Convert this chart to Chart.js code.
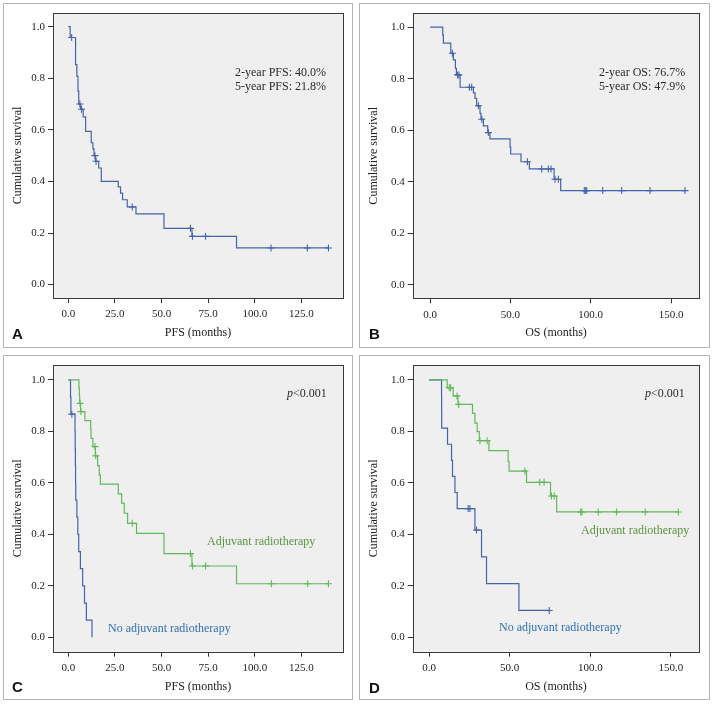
<!DOCTYPE html>
<html><head><meta charset="utf-8">
<script src="https://cdn.jsdelivr.net/npm/chart.js@4.4.1/dist/chart.umd.min.js"></script>
<style>
html,body{margin:0;padding:0;background:#fff;}
#wrap{position:relative;width:713px;height:705px;overflow:hidden;font-family:'Liberation Serif',serif;}
.frame{position:absolute;border:1px solid #b4b4b4;box-sizing:border-box;}
canvas{position:absolute;}
.note{position:absolute;font-size:12px;line-height:14px;color:#2a2a2a;white-space:nowrap;font-family:'Liberation Serif',serif;}
.letter{position:absolute;font-family:'Liberation Sans',Arial,sans-serif;font-weight:bold;font-size:15px;line-height:15px;color:#111;}
</style></head><body>
<div id="wrap">
  <div class="frame" style="left:3px;top:3px;width:350px;height:345px"></div>
  <div class="frame" style="left:359px;top:3px;width:351px;height:345px"></div>
  <div class="frame" style="left:3px;top:355px;width:350px;height:345px"></div>
  <div class="frame" style="left:359px;top:355px;width:351px;height:345px"></div>
  <canvas id="cA" width="356" height="350" style="left:0;top:0"></canvas>
  <canvas id="cB" width="357" height="350" style="left:356px;top:0"></canvas>
  <canvas id="cC" width="356" height="355" style="left:0;top:350px"></canvas>
  <canvas id="cD" width="357" height="355" style="left:356px;top:350px"></canvas>
  <div class="note" style="left:235px;top:65px">2-year PFS: 40.0%<br>5-year PFS: 21.8%</div>
  <div class="note" style="left:599px;top:65px">2-year OS: 76.7%<br>5-year OS: 47.9%</div>
  <div class="note" style="left:287px;top:386px"><i>p</i>&lt;0.001</div>
  <div class="note" style="left:645px;top:386px"><i>p</i>&lt;0.001</div>
  <div class="note" style="left:207px;top:534px;color:#5a9440">Adjuvant radiotherapy</div>
  <div class="note" style="left:108px;top:621px;color:#2f72b8">No adjuvant radiotherapy</div>
  <div class="note" style="left:581px;top:523px;color:#5a9440">Adjuvant radiotherapy</div>
  <div class="note" style="left:499px;top:620px;color:#2f72b8">No adjuvant radiotherapy</div>
  <div class="letter" style="left:12px;top:326px">A</div>
  <div class="letter" style="left:369px;top:326px">B</div>
  <div class="letter" style="left:12px;top:679px">C</div>
  <div class="letter" style="left:369px;top:680px">D</div>
</div>
<script>
// ---- Panel A: PFS, all patients ----
const pfsAllTime = [0, 1.0, 3.9, 4.6, 5.2, 5.6, 6.6, 8.0, 9.3, 12.3, 13.2, 13.8, 14.6, 16.3, 17.7, 26.8, 28.0, 29.1, 31.6, 36.3, 51.3, 66.3, 90.2, 139.5];
const pfsAllSurv = [1.0, 0.958, 0.853, 0.807, 0.75, 0.70, 0.68, 0.65, 0.594, 0.55, 0.526, 0.50, 0.478, 0.452, 0.40, 0.379, 0.355, 0.329, 0.301, 0.274, 0.218, 0.187, 0.142, 0.142];
const pfsAllCensTime = [1.8, 6.2, 7.1, 14.3, 14.9, 34.3, 65.5, 66.6, 73.6, 108.7, 128.2, 139.5];
const pfsAllCensSurv = [0.958, 0.70, 0.68, 0.50, 0.478, 0.301, 0.218, 0.187, 0.187, 0.142, 0.142, 0.142];

// ---- Panel B: OS, all patients ----
const osAllTime = [0, 7.9, 8.3, 12.9, 14.5, 15.8, 16.4, 18.7, 27.0, 28.0, 29.0, 31.1, 31.7, 33.2, 35.9, 37.3, 49.8, 50.2, 56.6, 61.8, 77.2, 81.3, 158.7];
const osAllSurv = [1.0, 0.969, 0.938, 0.899, 0.873, 0.84, 0.815, 0.767, 0.745, 0.724, 0.695, 0.666, 0.643, 0.617, 0.591, 0.567, 0.535, 0.508, 0.478, 0.45, 0.41, 0.366, 0.366];
const osAllCensTime = [13.9, 17.1, 18.0, 24.5, 25.9, 30.1, 32.2, 36.3, 60.6, 69.5, 73.6, 75.3, 77.8, 79.9, 96.0, 96.9, 97.5, 107.5, 119.3, 136.9, 158.7];
const osAllCensSurv = [0.899, 0.815, 0.815, 0.767, 0.767, 0.695, 0.643, 0.591, 0.478, 0.45, 0.45, 0.45, 0.41, 0.41, 0.366, 0.366, 0.366, 0.366, 0.366, 0.366, 0.366];

// ---- Panel C: PFS by adjuvant radiotherapy ----
const pfsAdjTime = [0, 5.7, 5.9, 6.1, 6.6, 8.9, 12.0, 12.2, 13.2, 14.5, 15.7, 16.6, 17.2, 26.8, 28.6, 30.0, 31.8, 36.6, 51.3, 66.3, 90.2, 139.5];
const pfsAdjSurv = [1.0, 0.97, 0.94, 0.909, 0.877, 0.842, 0.808, 0.773, 0.741, 0.705, 0.667, 0.63, 0.595, 0.557, 0.521, 0.482, 0.443, 0.404, 0.325, 0.277, 0.208, 0.208];
const pfsAdjCensTime = [6.3, 6.8, 14.3, 14.7, 34.3, 65.5, 66.6, 73.6, 108.9, 128.4, 139.5];
const pfsAdjCensSurv = [0.909, 0.877, 0.741, 0.705, 0.443, 0.325, 0.277, 0.277, 0.208, 0.208, 0.208];
const pfsNoTime = [0, 1.2, 1.4, 3.6, 3.7, 3.8, 3.9, 4.0, 4.6, 5.1, 5.6, 6.5, 7.7, 8.7, 9.7, 12.7];
const pfsNoSurv = [1.0, 0.933, 0.867, 0.8, 0.733, 0.667, 0.6, 0.533, 0.467, 0.4, 0.333, 0.267, 0.2, 0.133, 0.067, 0.0];
const pfsNoCensTime = [1.9];
const pfsNoCensSurv = [0.867];

// ---- Panel D: OS by adjuvant radiotherapy ----
const osAdjTime = [0, 11.2, 14.9, 17.9, 26.9, 28.4, 29.8, 31.1, 37.1, 49.0, 49.6, 60.4, 75.3, 79.1, 154.6];
const osAdjSurv = [1.0, 0.97, 0.938, 0.905, 0.87, 0.832, 0.799, 0.764, 0.725, 0.683, 0.646, 0.602, 0.549, 0.487, 0.487];
const osAdjCensTime = [12.5, 13.3, 17.3, 18.3, 31.5, 36.0, 59.4, 68.6, 71.3, 75.9, 77.6, 94.0, 94.8, 104.9, 116.3, 134.1, 154.6];
const osAdjCensSurv = [0.97, 0.97, 0.938, 0.905, 0.764, 0.764, 0.646, 0.602, 0.602, 0.549, 0.549, 0.487, 0.487, 0.487, 0.487, 0.487, 0.487];
const osNoTime = [0, 7.7, 7.75, 7.8, 11.4, 13.9, 14.5, 16.0, 17.4, 28.4, 32.5, 35.6, 55.7, 74.5];
const osNoSurv = [1.0, 0.9375, 0.875, 0.8125, 0.75, 0.6875, 0.625, 0.5625, 0.5, 0.4167, 0.3125, 0.2083, 0.1042, 0.1042];
const osNoCensTime = [24.2, 25.3, 29.4, 74.5];
const osNoCensSurv = [0.5, 0.5, 0.4167, 0.1042];

// ---- Tick labels ----
const pfsTicks = [0, 25, 50, 75, 100, 125];
const osTicks = [0, 50, 100, 150];
const survTicks = [0, 0.2, 0.4, 0.6, 0.8, 1.0];

const BLUE = '#4563ad', GREEN = '#62b85a';
const FONT = "'Liberation Serif', 'Times New Roman', serif";

function pts(t, s) { return t.map((v, i) => ({x: v, y: s[i]})); }
function curve(label, t, s, color) {
  return {label, data: pts(t, s), showLine: true, stepped: 'before', borderColor: color,
          borderWidth: 1.2, pointRadius: 0, pointHoverRadius: 0, fill: false};
}
function cens(label, t, s, color) {
  return {label, data: pts(t, s), showLine: false, pointStyle: 'cross', pointRadius: 3.5,
          pointBorderWidth: 1.1, borderColor: color, backgroundColor: color, pointHoverRadius: 0};
}

const plotBg = {
  id: 'plotBg',
  beforeDraw(c) {
    const a = c.chartArea, ctx = c.ctx;
    ctx.save(); ctx.fillStyle = '#efefef';
    ctx.fillRect(a.left, a.top, a.right - a.left, a.bottom - a.top); ctx.restore();
  },
  afterDraw(c) {
    const a = c.chartArea, ctx = c.ctx;
    ctx.save(); ctx.strokeStyle = '#3a3a3a'; ctx.lineWidth = 1;
    const l = Math.round(a.left) + 0.5, t = Math.round(a.top) + 0.5;
    ctx.strokeRect(l, t, Math.round(a.right) - Math.round(a.left), Math.round(a.bottom) - Math.round(a.top));
    ctx.restore();
  }
};

function make(id, datasets, xr, yr, xTicks, xTitle, g) {
  new Chart(document.getElementById(id), {
    type: 'scatter',
    data: {datasets},
    plugins: [plotBg],
    options: {
      responsive: false, animation: false, devicePixelRatio: 1,
      layout: {padding: {left: g.pl, right: g.pr, top: g.pt, bottom: g.pb}},
      plugins: {legend: {display: false}, tooltip: {enabled: false}},
      events: [],
      scales: {
        x: {
          type: 'linear', min: xr[0], max: xr[1],
          afterBuildTicks: s => { s.ticks = xTicks.map(v => ({value: v})); },
          afterFit: s => { s.height = g.xh; },
          ticks: {callback: v => Number(v).toFixed(1), font: {family: FONT, size: 11}, color: '#222',
                  padding: 5, maxRotation: 0, autoSkip: false},
          grid: {display: true, drawOnChartArea: false, drawTicks: true, tickLength: 5, color: '#333'},
          border: {display: false},
          title: {display: true, text: xTitle, font: {family: FONT, size: 12}, color: '#222', padding: 0}
        },
        y: {
          type: 'linear', min: yr[0], max: yr[1],
          afterBuildTicks: s => { s.ticks = survTicks.map(v => ({value: v})); },
          afterFit: s => { s.width = g.yw; },
          ticks: {callback: v => Number(v).toFixed(1), font: {family: FONT, size: 11}, color: '#222',
                  padding: 3, autoSkip: false},
          grid: {display: true, drawOnChartArea: false, drawTicks: true, tickLength: 5, color: '#333'},
          border: {display: false},
          title: {display: true, text: 'Cumulative survival', font: {family: FONT, size: 12}, color: '#222', padding: 0}
        }
      }
    }
  });
}

make('cA', [curve('PFS', pfsAllTime, pfsAllSurv, BLUE), cens('Censored', pfsAllCensTime, pfsAllCensSurv, BLUE)],
     [-8.2, 147.3], [-0.052, 1.053], pfsTicks, 'PFS (months)',
     {pl: 11, pr: 13, pt: 13, pb: 10, yw: 42, xh: 42});
make('cB', [curve('OS', osAllTime, osAllSurv, BLUE), cens('Censored', osAllCensTime, osAllCensSurv, BLUE)],
     [-10.8, 167.6], [-0.052, 1.054], osTicks, 'OS (months)',
     {pl: 11, pr: 13.7, pt: 13.3, pb: 10, yw: 45.7, xh: 41.7});
make('cC', [curve('Adjuvant radiotherapy', pfsAdjTime, pfsAdjSurv, GREEN), cens('Adjuvant censored', pfsAdjCensTime, pfsAdjCensSurv, GREEN),
            curve('No adjuvant radiotherapy', pfsNoTime, pfsNoSurv, BLUE), cens('No adjuvant censored', pfsNoCensTime, pfsNoCensSurv, BLUE)],
     [-8.2, 147.3], [-0.056, 1.058], pfsTicks, 'PFS (months)',
     {pl: 11, pr: 13, pt: 15, pb: 11.1, yw: 42, xh: 42.2});
make('cD', [curve('Adjuvant radiotherapy', osAdjTime, osAdjSurv, GREEN), cens('Adjuvant censored', osAdjCensTime, osAdjCensSurv, GREEN),
            curve('No adjuvant radiotherapy', osNoTime, osNoSurv, BLUE), cens('No adjuvant censored', osNoCensTime, osNoCensSurv, BLUE)],
     [-10.2, 167.6], [-0.056, 1.058], osTicks, 'OS (months)',
     {pl: 11, pr: 13.7, pt: 15, pb: 11.1, yw: 45.7, xh: 42.2});
</script>
</body></html>
